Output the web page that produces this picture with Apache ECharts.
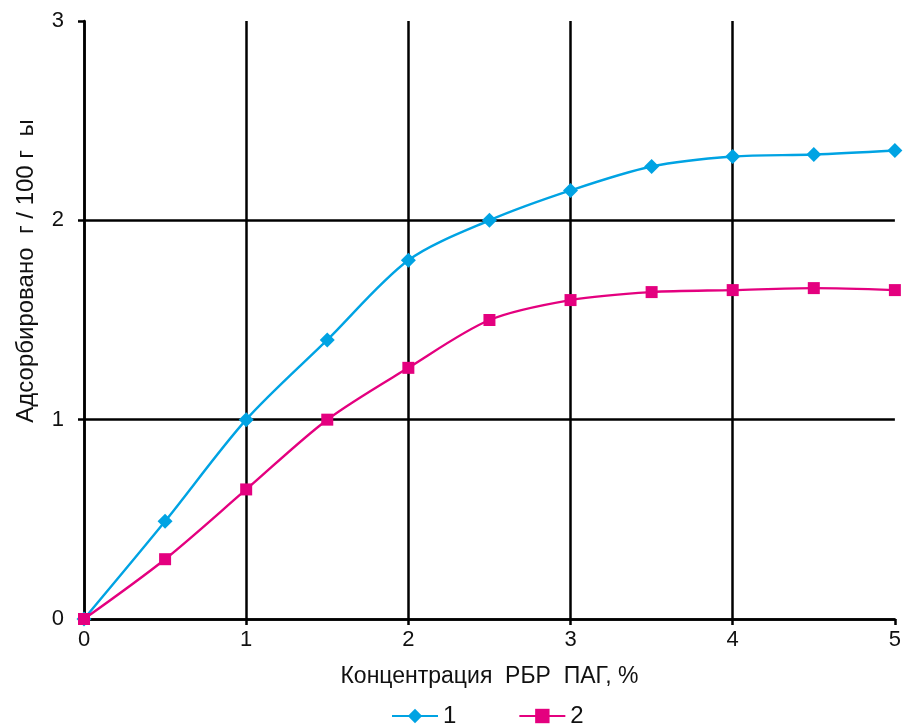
<!DOCTYPE html>
<html lang="ru">
<head>
<meta charset="UTF-8">
<title>adsorption</title>
<style>
  html, body { margin: 0; padding: 0; background: #fff; }
  #main { width: 904px; height: 726px; }
</style>
</head>
<body>
<div id="main"></div>
<script src="https://cdn.jsdelivr.net/npm/echarts@6/dist/echarts.min.js"></script>
<script>
    var conc = [0, 0.5, 1, 1.5, 2, 2.5, 3, 3.5, 4, 4.5, 5]
    var series1 = [0, 0.49, 1.0, 1.4, 1.8, 2.0, 2.15, 2.27, 2.32, 2.33, 2.35]
    var series2 = [0, 0.30, 0.65, 1.0, 1.26, 1.5, 1.6, 1.64, 1.65, 1.66, 1.65]
    var names = ['1', '2']

    function pairs(xs, ys) {
        var out = []
        for (var i = 0; i < xs.length; i++) out.push([xs[i], ys[i]])
        return out
    }

    var font = 'Liberation Sans, Arial, sans-serif'
    var myChart = echarts.init(document.getElementById('main'))
    var option = {
        animation: false,
        grid: { left: 84, right: 7, top: 21, bottom: 107, containLabel: false },
        legend: {
            data: names,
            top: 699,
            left: 386,
            itemWidth: 46,
            itemHeight: 18,
            itemGap: 62,
            textStyle: { fontFamily: font, fontSize: 24, color: '#111' }
        },
        xAxis: {
            type: 'value',
            min: 0, max: 5, interval: 1,
            name: 'Концентрация  РБР  ПАГ, %',
            nameLocation: 'middle',
            nameGap: 46,
            nameTextStyle: { fontFamily: font, fontSize: 23, color: '#111' },
            axisLine: { lineStyle: { color: '#000', width: 2.5 } },
            axisTick: { show: true, length: 6, lineStyle: { color: '#000', width: 2.5 } },
            axisLabel: { fontFamily: font, fontSize: 22, color: '#111', margin: 10 },
            splitLine: { show: true, showMaxLine: false, lineStyle: { color: '#000', width: 2.5 } }
        },
        yAxis: {
            type: 'value',
            min: 0, max: 3, interval: 1,
            axisLine: { show: true, lineStyle: { color: '#000', width: 2.5 } },
            axisTick: { show: true, length: 6, lineStyle: { color: '#000', width: 2.5 } },
            axisLabel: { fontFamily: font, fontSize: 22, color: '#111', margin: 20 },
            splitLine: { show: true, showMaxLine: false, lineStyle: { color: '#000', width: 2.5 } }
        },
        graphic: [{
            type: 'text',
            x: 26, y: 271,
            rotation: Math.PI / 2,
            style: {
                text: 'Адсорбировано  г / 100 г  ы',
                font: '24px ' + font,
                fill: '#111',
                align: 'center',
                verticalAlign: 'middle'
            }
        }],
        series: [{
            name: names[0],
            type: 'line',
            data: pairs(conc, series1),
            smooth: 0.3,
            symbol: 'diamond',
            symbolSize: 15,
            itemStyle: { color: '#00a3e3' },
            lineStyle: { width: 2.4, color: '#00a3e3' },
            z: 3
        }, {
            name: names[1],
            type: 'line',
            data: pairs(conc, series2),
            smooth: 0.3,
            symbol: 'rect',
            symbolSize: 12,
            itemStyle: { color: '#e4007f' },
            lineStyle: { width: 2.4, color: '#e4007f' },
            z: 4
        }]
    }
    myChart.setOption(option)
</script>
</body>
</html>
